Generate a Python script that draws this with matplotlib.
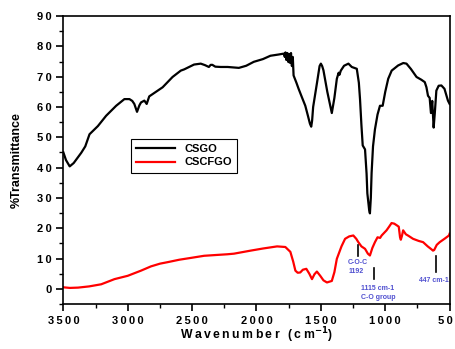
import matplotlib.pyplot as plt
from matplotlib.ticker import MultipleLocator, FuncFormatter

plt.rcParams['font.family'] = ['Liberation Sans', 'DejaVu Sans']

# CSGO spectrum (wavenumber, %T)
csgo_wn = [3500, 3480, 3451, 3420, 3361, 3330, 3297, 3232, 3168, 3090, 3026, 2987, 2965,
           2949, 2928, 2910, 2897, 2871, 2853, 2833, 2729, 2652, 2588, 2562, 2485, 2433,
           2400, 2370, 2356, 2343, 2320, 2278, 2224, 2137, 2080, 2021, 1950, 1892, 1830,
           1789, 1780, 1775, 1768, 1760, 1752, 1745, 1738, 1732, 1725, 1718, 1712, 1690,
           1673, 1650, 1621, 1600, 1585, 1575, 1568, 1560, 1530, 1510, 1500, 1490, 1480,
           1450, 1415, 1395, 1376, 1362, 1356, 1345, 1320, 1286, 1260, 1221, 1205, 1196,
           1185, 1175, 1157, 1145, 1139, 1130, 1125, 1119, 1112, 1106, 1095, 1080, 1060,
           1041, 1020, 1000, 977, 950, 900, 860, 835, 800, 757, 720, 693, 680, 668, 655,
           645, 635, 624, 615, 603, 585, 564, 540, 513, 500]
csgo_t = [45.0, 42.5, 40.4, 41.5, 44.9, 47.0, 51.0, 53.7, 57.1, 60.4, 62.6, 62.6, 62.0,
          61.0, 58.4, 60.5, 61.5, 62.1, 61.0, 63.5, 66.5, 69.9, 72.0, 72.4, 74.0, 74.3,
          73.8, 73.2, 73.9, 73.9, 73.3, 73.2, 73.2, 72.9, 73.6, 74.9, 75.8, 76.9, 77.3,
          77.6, 76.5, 78.0, 75.5, 77.8, 74.8, 77.5, 74.5, 77.8, 73.5, 76.5, 70.4, 68.0,
          66.0, 63.5, 60.4, 57.0, 54.5, 53.5, 55.5, 60.0, 68.0, 73.5, 74.3, 73.5, 72.1,
          65.0, 58.0, 63.0, 69.3, 71.3, 70.6, 72.0, 73.6, 74.3, 73.2, 72.6, 68.0, 62.6,
          54.0, 47.3, 46.0, 38.0, 31.5, 28.0, 26.0, 24.9, 30.0, 38.2, 47.0, 52.6, 57.5,
          60.4, 60.4, 65.0, 69.3, 72.0, 73.7, 74.5, 74.3, 72.5, 69.9, 69.0, 68.2, 66.5,
          63.7, 63.0, 58.0, 62.0, 53.2, 58.0, 65.4, 67.0, 67.1, 66.0, 62.1, 61.0]

# CSCFGO spectrum
cscfgo_wn = [3500, 3450, 3386, 3300, 3206, 3103, 3000, 2897, 2820, 2750, 2690, 2600, 2510,
             2407, 2300, 2227, 2175, 2046, 1950, 1840, 1776, 1737, 1715, 1698, 1680, 1660,
             1640, 1613, 1590, 1569, 1550, 1531, 1505, 1480, 1453, 1415, 1395, 1376, 1340,
             1312, 1280, 1248, 1225, 1209, 1185, 1157, 1135, 1119, 1100, 1080, 1060, 1040,
             1028, 990, 970, 951, 930, 912, 895, 885, 879, 870, 861, 840, 820, 784, 740,
             706, 670, 640, 629, 620, 600, 577, 540, 505, 500]
cscfgo_t = [0.5, 0.3, 0.4, 0.8, 1.5, 3.2, 4.3, 6.0, 7.4, 8.3, 8.8, 9.6, 10.2,
            10.9, 11.2, 11.4, 11.6, 12.6, 13.3, 14.0, 13.8, 12.2, 9.0, 6.0, 5.3, 5.4,
            6.3, 6.6, 5.0, 3.2, 4.8, 5.7, 4.3, 2.8, 2.1, 2.6, 5.5, 9.9, 14.0,
            16.5, 17.3, 17.6, 16.5, 15.4, 14.0, 13.2, 11.6, 11.0, 13.5, 15.4, 17.0, 16.8,
            17.6, 19.3, 20.5, 21.7, 21.5, 21.0, 20.5, 17.0, 16.2, 17.5, 19.3, 18.0, 17.5,
            16.5, 15.8, 15.4, 14.0, 13.0, 12.6, 12.8, 14.5, 15.4, 16.5, 17.6, 18.2]

# peak markers: (wavenumber, bottom, top)
markers = [(1212, 10.9, 14.3), (1084, 3.3, 6.8), (609, 5.5, 10.7)]
# labels: (wavenumber, y, text)
labels = [(1214, 8.6, 'C-O-C'), (1225, 5.8, '1192'), (1061, 0.2, '1115 cm-1'),
          (1058, -3.0, 'C-O group'), (623, 2.7, '447 cm-1')]


def spaced(s):
    # the original uses widely tracked bold digits
    return '\u2009'.join(s)


fig = plt.figure(figsize=(4.56, 3.49), dpi=100)
ax = fig.add_axes([0.139, 0.129, 0.847, 0.825])

ax.plot(csgo_wn, csgo_t, color='black', lw=1.6, label='CSGO')
ax.plot(cscfgo_wn, cscfgo_t, color='red', lw=1.6, label='CSCFGO')

for w, y0, y1 in markers:
    ax.plot([w, w], [y0, y1], color='black', lw=1.2)
for w, y, s in labels:
    ax.text(w, y, s, color='#5050d0', fontsize=5, fontweight='bold',
            ha='center', va='center')

ax.set_xlim(3500, 500)
ax.set_ylim(-5, 90)
ax.xaxis.set_major_locator(MultipleLocator(500))
ax.xaxis.set_minor_locator(MultipleLocator(250))
ax.yaxis.set_major_locator(MultipleLocator(10))
ax.yaxis.set_minor_locator(MultipleLocator(5))
fmt = FuncFormatter(lambda v, p: spaced(str(int(round(v)))))
ax.xaxis.set_major_formatter(fmt)
ax.yaxis.set_major_formatter(fmt)
ax.tick_params(which='major', direction='out', length=5, width=1.2, labelsize=8)
ax.tick_params(which='minor', direction='out', length=3, width=1.0)
for lab in ax.get_xticklabels() + ax.get_yticklabels():
    lab.set_fontweight('bold')
for sp in ax.spines.values():
    sp.set_linewidth(1.2)

ax.set_xlabel(spaced('Wavenumber (cm') + r'$^{\mathbf{-1}}$)', fontsize=8.8,
              fontweight='bold', labelpad=0)
ax.set_ylabel('%Transmittance', fontsize=9, fontweight='bold', labelpad=10)

leg = ax.legend(loc='upper left', bbox_to_anchor=(0.16, 0.594), fancybox=False,
                edgecolor='black', framealpha=1, prop={'weight': 'bold', 'size': 8},
                handlelength=3.5, borderpad=0.5, labelspacing=0.3)
leg.get_frame().set_linewidth(0.8)

fig.savefig('out.png', dpi=100)
